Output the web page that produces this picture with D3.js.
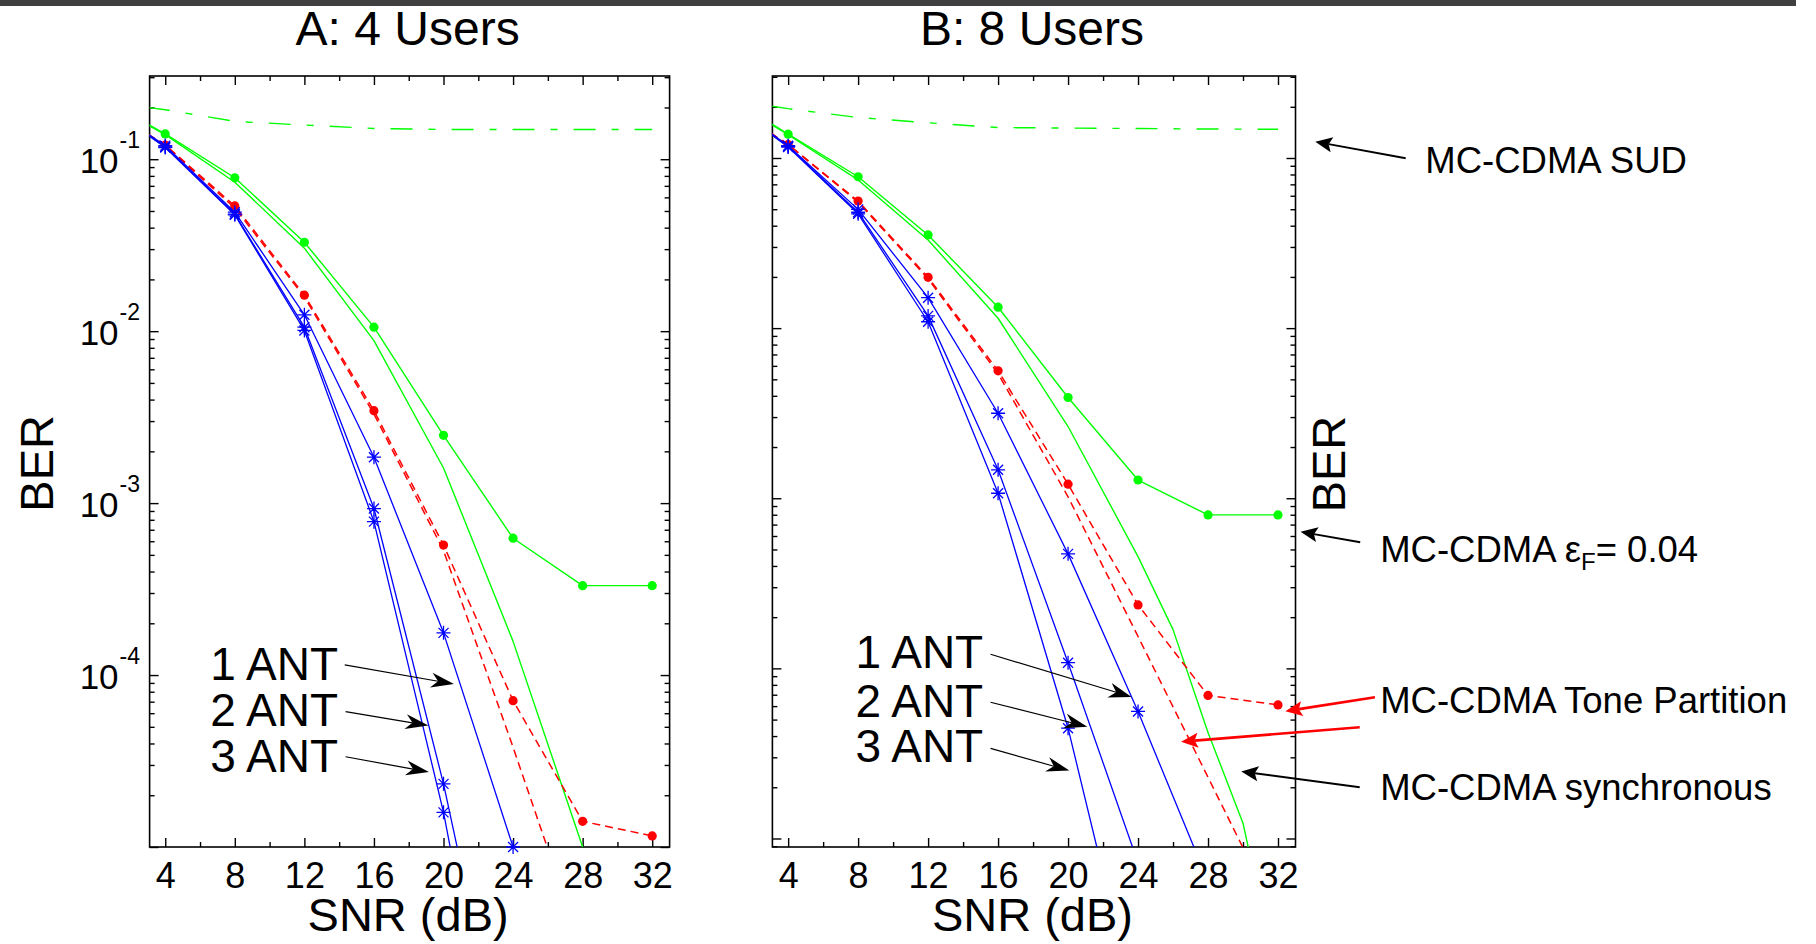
<!DOCTYPE html>
<html>
<head>
<meta charset="utf-8">
<script src="https://cdn.jsdelivr.net/npm/d3@7"></script>
<style>
  html, body { margin: 0; padding: 0; background: #fff; }
  svg text { font-family: "Liberation Sans", Arial, Helvetica, sans-serif; fill: #000; }
</style>
</head>
<body>
<svg id="fig" width="1816" height="944"></svg>
<script>
// ---------- SNR sample points (dB) ----------
const snr      = [3, 4, 8, 12, 16, 20, 24, 28, 32];
const snrAnt   = [3, 4, 8, 12, 16, 20, 24];
const snrAnt1B = [3, 4, 8, 12, 16, 20, 24, 28];
const snrSyncB = [3, 4, 8, 12, 16, 20, 24, 26, 28, 30, 32];

// ---------- Panel A: 4 users (BER) ----------
const sudA      = [0.2, 0.194, 0.166, 0.158, 0.151, 0.149, 0.149, 0.149, 0.149];
const epsA      = [0.16, 0.1404, 0.078, 0.0329, 0.01055, 0.00248, 6.25e-4, 3.31e-4, 3.31e-4];
const syncA     = [0.158, 0.139, 0.0735, 0.0304, 0.00881, 0.0016, 1.57e-4, 1.0e-5, 6e-7];
const toneA     = [0.14, 0.121, 0.0535, 0.0162, 0.00345, 5.7e-4, 7.1e-5, 1.41e-5, 1.16e-5];
const toneSyncA = [0.14, 0.12, 0.052, 0.0158, 0.0033, 5.3e-4, 3.8e-5, 2.5e-6, 1e-7];
const ant1A     = [0.14, 0.12, 0.0492, 0.01245, 0.00185, 1.76e-4, 1.0e-5];
const ant2A     = [0.139, 0.118, 0.048, 0.01055, 9.3e-4, 2.33e-5, 3.1e-7];
const ant3A     = [0.138, 0.117, 0.0475, 0.0101, 7.8e-4, 1.59e-5, 1.25e-7];

// ---------- Panel B: 8 users (BER) ----------
const sudB      = [0.202, 0.195, 0.173, 0.161, 0.151, 0.150, 0.149, 0.148, 0.1475];
const epsB      = [0.16, 0.138, 0.0776, 0.0353, 0.01327, 0.00391, 0.00128, 7.98e-4, 7.98e-4];
const syncB     = [0.158, 0.137, 0.0743, 0.033, 0.01143, 0.00264, 4.54e-4, 1.69e-4, 4.2e-5, 1.23e-5, 1.4e-6];
const toneB     = [0.14, 0.12, 0.0558, 0.0199, 0.00561, 0.00121, 2.36e-4, 6.93e-5, 6.1e-5];
const toneSyncB = [0.14, 0.12, 0.055, 0.0195, 0.0054, 1.02e-3, 1.54e-4, 2.29e-5, 3.4e-6];
const ant1B     = [0.14, 0.118, 0.0499, 0.0151, 0.00316, 4.71e-4, 5.58e-5, 5.6e-6];
const ant2B     = [0.139, 0.117, 0.048, 0.0118, 0.00147, 1.08e-4, 7.2e-6];
const ant3B     = [0.138, 0.116, 0.047, 0.0109, 0.00107, 4.45e-5, 8.9e-7];

// ---------- Axis ticks ----------
const xMajorTicks = [4, 8, 12, 16, 20, 24, 28, 32];
const xMinorTicks = [6, 10, 14, 18, 22, 26, 30];
const yDecades    = [1e-5, 1e-4, 1e-3, 1e-2, 1e-1];
const yDecadeExps = [-5, -4, -3, -2, -1];

// ---------- Line styles ----------
const GREEN = "#00ff00", RED = "#ff0000", BLUE = "#0000ff";
const styles = {
  sud:      { color: GREEN, width: 1.4, dash: "22,16,7,16", marker: null },
  eps:      { color: GREEN, width: 1.4, dash: null,        marker: "dot" },
  sync:     { color: GREEN, width: 1.4, dash: null,        marker: null },
  tone:     { color: RED,   width: 1.5, dash: "8,5",       marker: "dot" },
  toneSync: { color: RED,   width: 1.5, dash: "8,5",       marker: null },
  ant:      { color: BLUE,  width: 1.3, dash: null,        marker: "star" }
};

function series(x, y, style) { return { pts: x.map((s, i) => [s, y[i]]), style }; }

const panels = [
  {
    id: "A", title: "A: 4 Users",
    box: { left: 149.6, right: 669.6, top: 76, bottom: 847 },
    yExp: [-5, -0.516], yLabels: true,
    series: [
      series(snr, sudA, "sud"), series(snr, epsA, "eps"), series(snr, syncA, "sync"),
      series(snr, toneA, "tone"), series(snr, toneSyncA, "toneSync"),
      series(snrAnt, ant1A, "ant"), series(snrAnt, ant2A, "ant"), series(snrAnt, ant3A, "ant")
    ],
    // antenna call-outs, positions in (dB, log10 BER)
    notes: [
      { text: "1 ANT", at: [6.585, -4.029], tail: [14.32, -3.941], tip: [20.60, -4.052] },
      { text: "2 ANT", at: [6.585, -4.295], tail: [14.37, -4.213], tip: [19.13, -4.293] },
      { text: "3 ANT", at: [6.585, -4.562], tail: [14.37, -4.475], tip: [19.16, -4.564] }
    ]
  },
  {
    id: "B", title: "B: 8 Users",
    box: { left: 772.4, right: 1295.5, top: 76, bottom: 847 },
    yExp: [-5.05, -0.518], yLabels: false,
    series: [
      series(snr, sudB, "sud"), series(snr, epsB, "eps"), series(snrSyncB, syncB, "sync"),
      series(snr, toneB, "tone"), series(snr, toneSyncB, "toneSync"),
      series(snrAnt1B, ant1B, "ant"), series(snrAnt, ant2B, "ant"), series(snrAnt, ant3B, "ant")
    ],
    notes: [
      { text: "1 ANT", at: [7.844, -3.999], tail: [15.57, -3.917], tip: [23.63, -4.168] },
      { text: "2 ANT", at: [7.844, -4.284], tail: [15.57, -4.199], tip: [21.10, -4.343] },
      { text: "3 ANT", at: [7.844, -4.549], tail: [15.57, -4.470], tip: [20.07, -4.601] }
    ]
  }
];

// curve labels at the right of panel B, in panel B (dB, log10 BER) units
const sideNotes = [
  { text: "MC-CDMA SUD", at: [40.42, -1.086], arrows: [{ tail: [39.30, -1.002], tip: [34.13, -0.904], color: "#000" }] },
  { text: "MC-CDMA ε", sub: "F", rest: "= 0.04", at: [37.84, -3.373],
    arrows: [{ tail: [36.70, -3.259], tip: [33.29, -3.197], color: "#000" }] },
  { text: "MC-CDMA Tone Partition", at: [37.84, -4.261],
    arrows: [{ tail: [37.54, -4.170], tip: [32.42, -4.252], color: RED },
             { tail: [36.67, -4.346], tip: [26.46, -4.431], color: RED }] },
  { text: "MC-CDMA synchronous", at: [37.84, -4.774],
    arrows: [{ tail: [36.67, -4.699], tip: [29.90, -4.606], color: "#000" }] }
];

const svg = d3.select("#fig");
svg.append("rect").attr("x", 0).attr("y", 0).attr("width", 1816).attr("height", 944).attr("fill", "#fff");
svg.append("rect").attr("x", 0).attr("y", 0).attr("width", 1796).attr("height", 6).attr("fill", "#404040");

function drawArrow(g, p1, p2, opt) {
  const [x1, y1] = p1, [x2, y2] = p2;
  const ang = Math.atan2(y2 - y1, x2 - x1);
  const L = opt.L, W = opt.W, notch = opt.notch;
  const bx = x2 - Math.cos(ang) * L * notch, by = y2 - Math.sin(ang) * L * notch;
  g.append("line").attr("x1", x1).attr("y1", y1).attr("x2", bx).attr("y2", by)
    .attr("stroke", opt.color).attr("stroke-width", opt.width);
  const head = [[0, 0], [-L, -W / 2], [-L * notch, 0], [-L, W / 2]];
  g.append("path")
    .attr("d", "M" + head.map(p => p.join(",")).join("L") + "Z")
    .attr("transform", `translate(${x2},${y2}) rotate(${ang * 180 / Math.PI})`)
    .attr("fill", opt.color);
}

function starPath(s, a) {
  return `M${-s},0H${s}M0,${-s}V${s}M${-a},${-a}L${a},${a}M${-a},${a}L${a},${-a}`;
}

panels.forEach(p => {
  const b = p.box;
  const x = d3.scaleLinear().domain([3.1, 33]).range([b.left, b.right]);
  const y = d3.scaleLog().domain([10 ** p.yExp[0], 10 ** p.yExp[1]]).range([b.bottom, b.top]);
  p.x = x; p.y = y;
  const g = svg.append("g").attr("class", "panel-" + p.id);

  const clipId = "clip-" + p.id;
  svg.append("clipPath").attr("id", clipId).append("rect")
    .attr("x", b.left).attr("y", b.top).attr("width", b.right - b.left).attr("height", b.bottom - b.top);

  // y minor ticks: 2..9 x 10^k inside the domain
  const [yLo, yHi] = y.domain();
  const yMinor = [];
  for (let e = -6; e <= 0; e++) for (let k = 2; k <= 9; k++) {
    const v = k * 10 ** e;
    if (v >= yLo && v <= yHi) yMinor.push(v);
  }
  const yMajor = yDecades.filter(v => v >= yLo * 0.999 && v <= yHi);

  const noDomain = sel => sel.select(".domain").remove();
  const tickStyle = sel => sel.selectAll("line").attr("stroke", "#000").attr("stroke-width", 1.4);

  // inward ticks on all four sides
  g.append("g").attr("transform", `translate(0,${b.bottom})`)
    .call(d3.axisBottom(x).tickValues(xMajorTicks).tickSizeInner(-9).tickSizeOuter(0)
      .tickPadding(15).tickFormat(d3.format("d")))
    .call(noDomain).call(tickStyle)
    .call(sel => sel.selectAll("text").attr("font-size", 36).attr("fill", "#000")
      .attr("font-family", '"Liberation Sans", Arial, sans-serif'));
  g.append("g").attr("transform", `translate(0,${b.bottom})`)
    .call(d3.axisBottom(x).tickValues(xMinorTicks).tickSize(-5).tickFormat(""))
    .call(noDomain).call(tickStyle);
  g.append("g").attr("transform", `translate(0,${b.top})`)
    .call(d3.axisTop(x).tickValues(xMajorTicks).tickSize(-9).tickFormat(""))
    .call(noDomain).call(tickStyle);
  g.append("g").attr("transform", `translate(0,${b.top})`)
    .call(d3.axisTop(x).tickValues(xMinorTicks).tickSize(-5).tickFormat(""))
    .call(noDomain).call(tickStyle);
  [[d3.axisLeft, b.left], [d3.axisRight, b.right]].forEach(([ax, pos]) => {
    g.append("g").attr("transform", `translate(${pos},0)`)
      .call(ax(y).tickValues(yMajor).tickSize(-9).tickFormat(""))
      .call(noDomain).call(tickStyle);
    g.append("g").attr("transform", `translate(${pos},0)`)
      .call(ax(y).tickValues(yMinor).tickSize(-5).tickFormat(""))
      .call(noDomain).call(tickStyle);
  });

  // frame
  g.append("rect").attr("x", b.left).attr("y", b.top)
    .attr("width", b.right - b.left).attr("height", b.bottom - b.top)
    .attr("fill", "none").attr("stroke", "#000").attr("stroke-width", 1.6);

  // decade labels 10^k
  if (p.yLabels) {
    yDecades.forEach((v, i) => {
      if (v < yLo * 0.999 || v > yHi) return;
      if (yDecadeExps[i] === -5) return;
      const yy = y(v);
      g.append("text").attr("x", b.left - 31).attr("y", yy + 13.5)
        .attr("text-anchor", "end").attr("font-size", 35).text("10");
      g.append("text").attr("x", b.left - 30).attr("y", yy - 11.5)
        .attr("font-size", 23).text(String(yDecadeExps[i]));
    });
  }

  // curves
  const line = d3.line().x(d => x(d[0])).y(d => y(d[1]));
  const curves = g.append("g").attr("clip-path", `url(#${clipId})`);
  p.series.forEach(s => {
    const st = styles[s.style];
    curves.append("path").attr("d", line(s.pts)).attr("fill", "none")
      .attr("stroke", st.color).attr("stroke-width", st.width)
      .attr("stroke-dasharray", st.dash).attr("stroke-linejoin", "round");
  });
  // markers (only for samples inside the axes)
  const inside = d => d[0] >= 3.1 && d[0] <= 33 && d[1] >= yLo * 0.999 && d[1] <= yHi;
  p.series.forEach(s => {
    const st = styles[s.style];
    if (!st.marker) return;
    const pts = s.pts.filter(inside);
    if (st.marker === "dot") {
      g.append("g").selectAll("circle").data(pts).join("circle")
        .attr("cx", d => x(d[0])).attr("cy", d => y(d[1])).attr("r", 4.6).attr("fill", st.color);
    } else {
      g.append("g").selectAll("path").data(pts).join("path")
        .attr("transform", d => `translate(${x(d[0])},${y(d[1])})`)
        .attr("d", starPath(7, 5)).attr("stroke", st.color).attr("stroke-width", 1.3).attr("fill", "none");
    }
  });

  // titles and axis names
  const cx = (b.left + b.right) / 2;
  svg.append("text").attr("x", cx - 2).attr("y", 45).attr("text-anchor", "middle")
    .attr("font-size", 48).text(p.title);
  svg.append("text").attr("x", cx - 1.5).attr("y", 931).attr("text-anchor", "middle")
    .attr("font-size", 47).text("SNR (dB)");

  // antenna call-outs
  const pt = v => [x(v[0]), y(10 ** v[1])];
  p.notes.forEach(n => {
    const [tx, ty] = pt(n.at);
    svg.append("text").attr("x", tx).attr("y", ty).attr("font-size", 46).text(n.text);
    drawArrow(svg, pt(n.tail), pt(n.tip), { color: "#000", width: 1.2, L: 23, W: 15, notch: 0.7 });
  });
});

// BER axis names
svg.append("text").attr("transform", "translate(52.7,463.4) rotate(-90)")
  .attr("text-anchor", "middle").attr("font-size", 47).text("BER");
{
  const pB = panels[1];
  const pt = v => [pB.x(v[0]), pB.y(10 ** v[1])];
  const [bx, by] = pt([35.83, -2.799]);
  svg.append("text").attr("transform", `translate(${bx},${by}) rotate(-90)`)
    .attr("text-anchor", "middle").attr("font-size", 47).text("BER");

  sideNotes.forEach(n => {
    const [tx, ty] = pt(n.at);
    const t = svg.append("text").attr("x", tx).attr("y", ty).attr("font-size", 36.5);
    t.append("tspan").text(n.text);
    if (n.sub) {
      t.append("tspan").attr("dy", 8).attr("font-size", 24).text(n.sub);
      t.append("tspan").attr("dy", -8).text(n.rest);
    }
    n.arrows.forEach(a => {
      const red = a.color === RED;
      drawArrow(svg, pt(a.tail), pt(a.tip),
        { color: a.color, width: red ? 2.6 : 2, L: 17, W: 15, notch: 0.8 });
    });
  });
}
</script>
</body>
</html>
